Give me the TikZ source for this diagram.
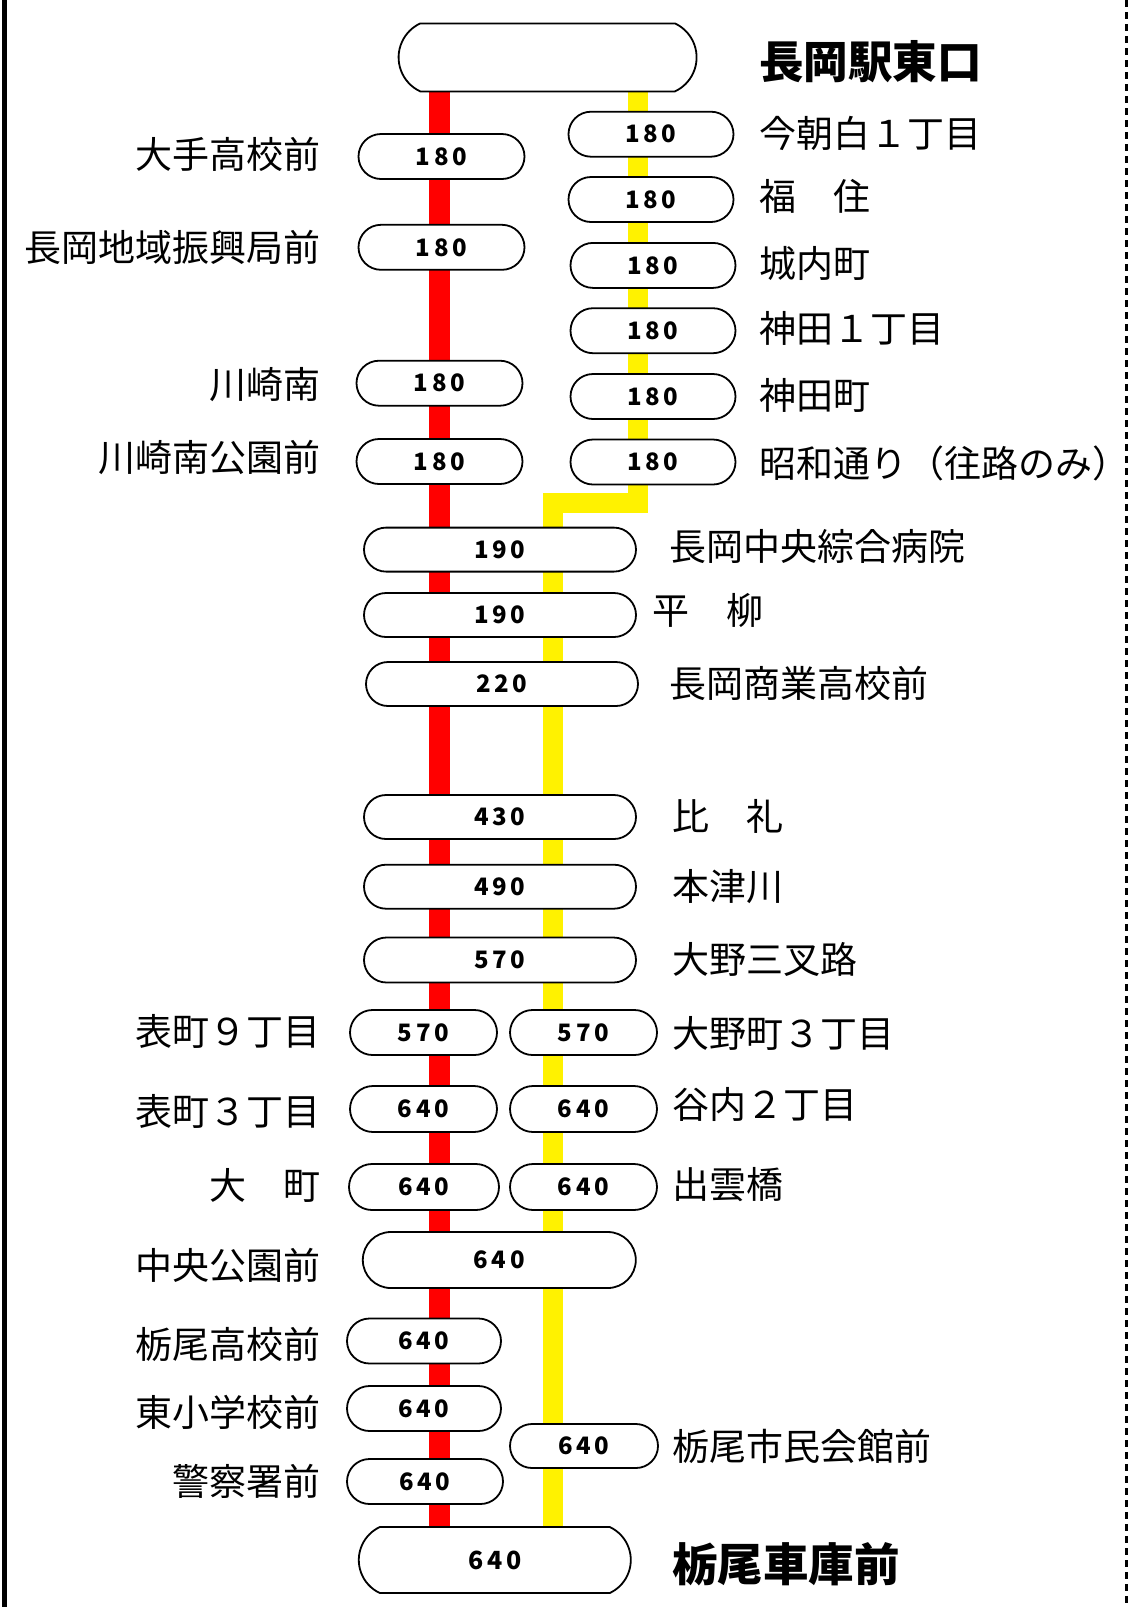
\documentclass[tikz,border=0pt]{standalone}
\usepackage{fontspec}
\setmainfont{Noto Sans CJK JP}
\newfontfamily\farefont{Noto Sans CJK JP}[LetterSpace=15]
\usetikzlibrary{shapes.misc}
\pgfdeclarelayer{background}
\pgfsetlayers{background,main}
\begin{document}
\begin{tikzpicture}[x=1pt,y=-1pt,
  fare/.style={rounded rectangle, draw=black, line width=1.8pt, fill=white,
    inner sep=0pt, minimum height=45pt,
    font={\farefont\bfseries\fontsize{24}{28}\selectfont}},
  oval/.style={fare, rounded rectangle arc length=130},
  lbl/.style={inner sep=0pt, font={\fontsize{37}{40}\selectfont}},
  rlbl/.style={lbl, anchor=west},
  llbl/.style={lbl, anchor=east},
  ttl/.style={inner sep=0pt, anchor=west, font={\bfseries\fontsize{44.5}{48}\selectfont}},
  redline/.style={draw=red, line width=21pt},
  yelline/.style={draw=yellow, line width=20pt, line join=miter},
]
\useasboundingbox (0,0) rectangle (1128,1607);
\begin{pgfonlayer}{background}
\fill[white] (0,0) rectangle (1128,1607);
\end{pgfonlayer}
% borders
\draw[line width=5pt] (4,0) -- (4,1607);
\draw[line width=3pt, dash pattern=on 7pt off 5pt] (1126.5,0) -- (1126.5,1607);

% coordinates of the lines
\coordinate (rx) at (439.5,0);
\coordinate (yj1) at (637.5,503);
\coordinate (yj2) at (553,503);

% terminal nodes
\node[oval, minimum width=298pt, minimum height=68pt] (top) at (547.6,57.4) {};
\node[oval, minimum width=272pt, minimum height=66pt,
      font={\farefont\bfseries\fontsize{25}{28}\selectfont}] (bot) at (494.8,1560) {640};

% left branch
\node[fare, minimum width=166pt] (l1) at (441.5,156.5) {180};
\node[fare, minimum width=166pt] (l2) at (441.5,247.3) {180};
\node[fare, minimum width=166pt] (l3) at (439.5,383.2) {180};
\node[fare, minimum width=166pt] (l4) at (439.5,461.5) {180};
% right branch
\node[fare, minimum width=165pt] (r1) at (651,134.2) {180};
\node[fare, minimum width=165pt] (r2) at (651,199.5) {180};
\node[fare, minimum width=165pt] (r3) at (653,265.4) {180};
\node[fare, minimum width=165pt] (r4) at (653,330.7) {180};
\node[fare, minimum width=165pt] (r5) at (653,396.5) {180};
\node[fare, minimum width=165pt] (r6) at (653,462) {180};
% common section
\node[fare, minimum width=272pt, minimum height=44pt] (c1) at (500,549.6) {190};
\node[fare, minimum width=272pt, minimum height=44pt] (c2) at (500,615) {190};
\node[fare, minimum width=272pt, minimum height=44pt] (c3) at (502,684) {220};
\node[fare, minimum width=272pt, minimum height=44pt] (c4) at (500,817) {430};
\node[fare, minimum width=272pt, minimum height=44pt] (c5) at (500,886.7) {490};
\node[fare, minimum width=272pt, minimum height=45pt] (c6) at (500,960) {570};
% split section
\node[fare, minimum width=147pt] (p1l) at (423.5,1032.5) {570};
\node[fare, minimum width=147pt] (p1r) at (583.5,1032.5) {570};
\node[fare, minimum width=147pt, minimum height=46pt] (p2l) at (423.5,1109) {640};
\node[fare, minimum width=147pt, minimum height=46pt] (p2r) at (583.5,1109) {640};
\node[fare, minimum width=150pt, minimum height=46pt] (p3l) at (424,1187) {640};
\node[fare, minimum width=147pt, minimum height=46pt] (p3r) at (583.5,1187) {640};
\node[fare, minimum width=273pt, minimum height=56pt] (cp) at (499.3,1260) {640};
\node[fare, minimum width=154pt] (t1) at (424,1341) {640};
\node[fare, minimum width=154pt] (t2) at (424,1408.5) {640};
\node[fare, minimum width=148pt, minimum height=44pt] (t3) at (584,1446) {640};
\node[fare, minimum width=156pt] (t4) at (425,1481.5) {640};

% lines, behind the stop nodes
\begin{pgfonlayer}{background}
\draw[redline] (top.south -| rx) -- (bot.north -| rx);
\draw[yelline] (top.south -| yj1) -- (yj1) -- (yj2) -- (bot.north -| yj2);
\end{pgfonlayer}

% labels
\node[ttl] (ltop) at (759,61.5) {長岡駅東口};
\node[ttl, font={\bfseries\fontsize{45.5}{48}\selectfont}] (lbot) at (672,1564) {栃尾車庫前};

\node[llbl] (n1) at (320.7,154.7) {大手高校前};
\node[llbl] (n2) at (320.7,247) {長岡地域振興局前};
\node[llbl] (n3) at (320.7,385) {川崎南};
\node[llbl] (n4) at (320.7,457) {川崎南公園前};
\node[llbl] (n5) at (320.7,1031.7) {表町９丁目};
\node[llbl] (n6) at (320.7,1111.6) {表町３丁目};
\node[llbl] (n7) at (320.7,1185) {大　町};
\node[llbl] (n8) at (320.7,1265) {中央公園前};
\node[llbl] (n9) at (320.7,1344) {栃尾高校前};
\node[llbl] (n10) at (320.7,1412.8) {東小学校前};
\node[llbl] (n11) at (320.7,1481) {警察署前};

\node[rlbl] (m1) at (759,133) {今朝白１丁目};
\node[rlbl] (m2) at (759,196.7) {福　住};
\node[rlbl] (m3) at (759,263) {城内町};
\node[rlbl] (m4) at (759,328) {神田１丁目};
\node[rlbl] (m5) at (759,395.5) {神田町};
\node[rlbl] (m6) at (759,463) {昭和通り（往路のみ）};
\node[rlbl] (m7) at (669,546) {長岡中央綜合病院};
\node[rlbl] (m8) at (652.6,610.6) {平　柳};
\node[rlbl] (m9) at (669,683) {長岡商業高校前};
\node[rlbl] (m10) at (672,816.5) {比　礼};
\node[rlbl] (m11) at (672,887) {本津川};
\node[rlbl] (m12) at (672,959) {大野三叉路};
\node[rlbl] (m13) at (672,1033) {大野町３丁目};
\node[rlbl] (m14) at (672,1104) {谷内２丁目};
\node[rlbl] (m15) at (672,1185) {出雲橋};
\node[rlbl] (m16) at (672,1446.6) {栃尾市民会館前};
\end{tikzpicture}
\end{document}
